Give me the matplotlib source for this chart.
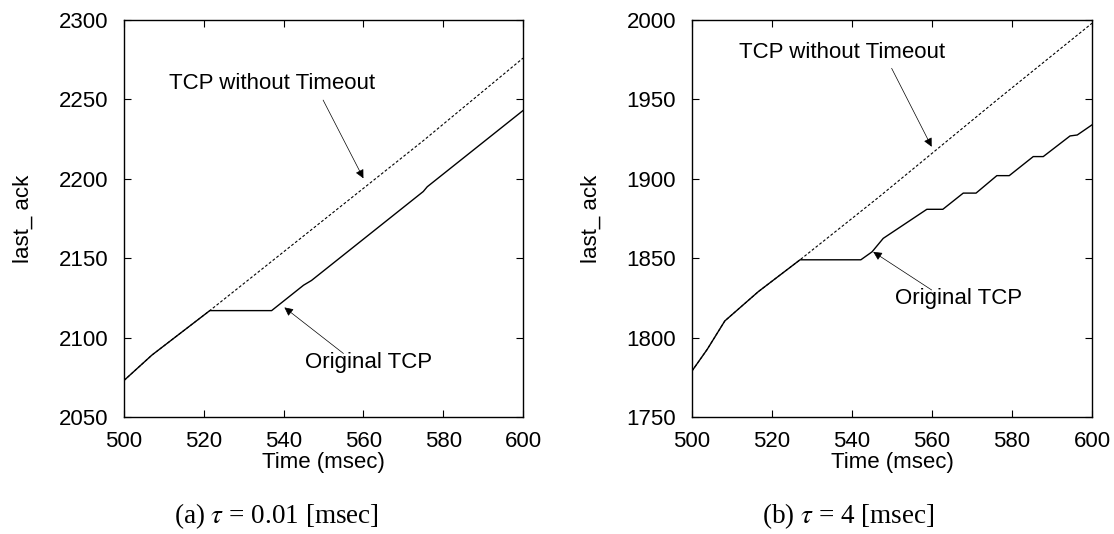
import matplotlib
matplotlib.use('Agg')
from matplotlib import pyplot as plt

plt.rcParams['font.family'] = ['Liberation Sans', 'DejaVu Sans']
plt.rcParams['font.size'] = 16
plt.rcParams['mathtext.fontset'] = 'stix'

# (a) tau = 0.01 msec
orig_t_a = [500, 507, 521.5, 537, 545, 547, 575, 576, 600]
orig_y_a = [2073, 2089, 2117, 2117, 2133, 2136, 2192, 2195, 2243]
noto_t_a = [500, 507, 521.5, 537, 575, 600]
noto_y_a = [2073, 2089, 2117, 2148, 2224, 2276]

# (b) tau = 4 msec
orig_t_b = [500, 503.8, 508.2, 516.6, 527, 542.2, 545, 547.8, 550.3, 558.7, 562.7,
            567.8, 571, 576.2, 579.3, 585.3, 587.8, 594.5, 596.3, 600]
orig_y_b = [1779, 1792.6, 1810.5, 1829, 1849, 1849, 1854, 1862.5, 1866.7, 1880.8, 1880.8,
            1891, 1891, 1902, 1902, 1914, 1914, 1927, 1927.6, 1934]
noto_t_b = [500, 503.8, 508.2, 516.6, 527, 546.6, 576.2, 600]
noto_y_b = [1779, 1792.6, 1810.5, 1829, 1849, 1888.3, 1949.6, 1998]

xticks = [500, 520, 540, 560, 580, 600]
yticks_a = [2050, 2100, 2150, 2200, 2250, 2300]
yticks_b = [1750, 1800, 1850, 1900, 1950, 2000]

fig = plt.figure(figsize=(11.14, 5.34), dpi=100)
ax1 = fig.add_axes([0.1113, 0.2191, 0.3582, 0.7434])
ax2 = fig.add_axes([0.6212, 0.2191, 0.3591, 0.7434])

arrow = dict(arrowstyle='-|>', color='black', lw=0.5, mutation_scale=13,
             shrinkA=0, shrinkB=0)

# left panel
ax1.plot(noto_t_a, noto_y_a, color='black', lw=0.8, ls=(0, (2.5, 1.8)))
ax1.plot(orig_t_a, orig_y_a, color='black', lw=1.0)
ax1.text(537.2, 2260.3, 'TCP without Timeout', ha='center', va='center')
ax1.annotate('', xy=(560, 2200.3), xytext=(549.9, 2249.6), arrowprops=arrow)
ax1.text(561.4, 2084.6, 'Original TCP', ha='center', va='center')
ax1.annotate('', xy=(540.2, 2119), xytext=(555, 2090), arrowprops=arrow)

# right panel
ax2.plot(noto_t_b, noto_y_b, color='black', lw=0.8, ls=(0, (2.5, 1.8)))
ax2.plot(orig_t_b, orig_y_b, color='black', lw=1.0)
ax2.text(537.4, 1979.5, 'TCP without Timeout', ha='center', va='center')
ax2.annotate('', xy=(559.9, 1920.2), xytext=(549.9, 1969.6), arrowprops=arrow)
ax2.text(566.6, 1824.7, 'Original TCP', ha='center', va='center')
ax2.annotate('', xy=(545.3, 1854), xytext=(559.9, 1830), arrowprops=arrow)

for ax, yt in [(ax1, yticks_a), (ax2, yticks_b)]:
    ax.set_xlim(500, 600)
    ax.set_ylim(yt[0], yt[-1])
    ax.set_xticks(xticks)
    ax.set_yticks(yt)
    ax.tick_params(direction='in', length=5, width=0.8, top=True, right=True)
    ax.tick_params(axis='x', pad=10)
    ax.tick_params(axis='y', pad=11.5)
    ax.set_xlabel('Time (msec)', labelpad=0)
    ax.set_ylabel('last_ ack', labelpad=18)
    for s in ax.spines.values():
        s.set_linewidth(1.0)

fig.text(276 / 1114, 1 - 516 / 534, r'(a) $\tau$ = 0.01 [msec]', ha='center', va='center',
         family='Liberation Serif', fontsize=19.5)
fig.text(848 / 1114, 1 - 516 / 534, r'(b) $\tau$ = 4 [msec]', ha='center', va='center',
         family='Liberation Serif', fontsize=19.5)

fig.savefig('out.png', dpi=100)
